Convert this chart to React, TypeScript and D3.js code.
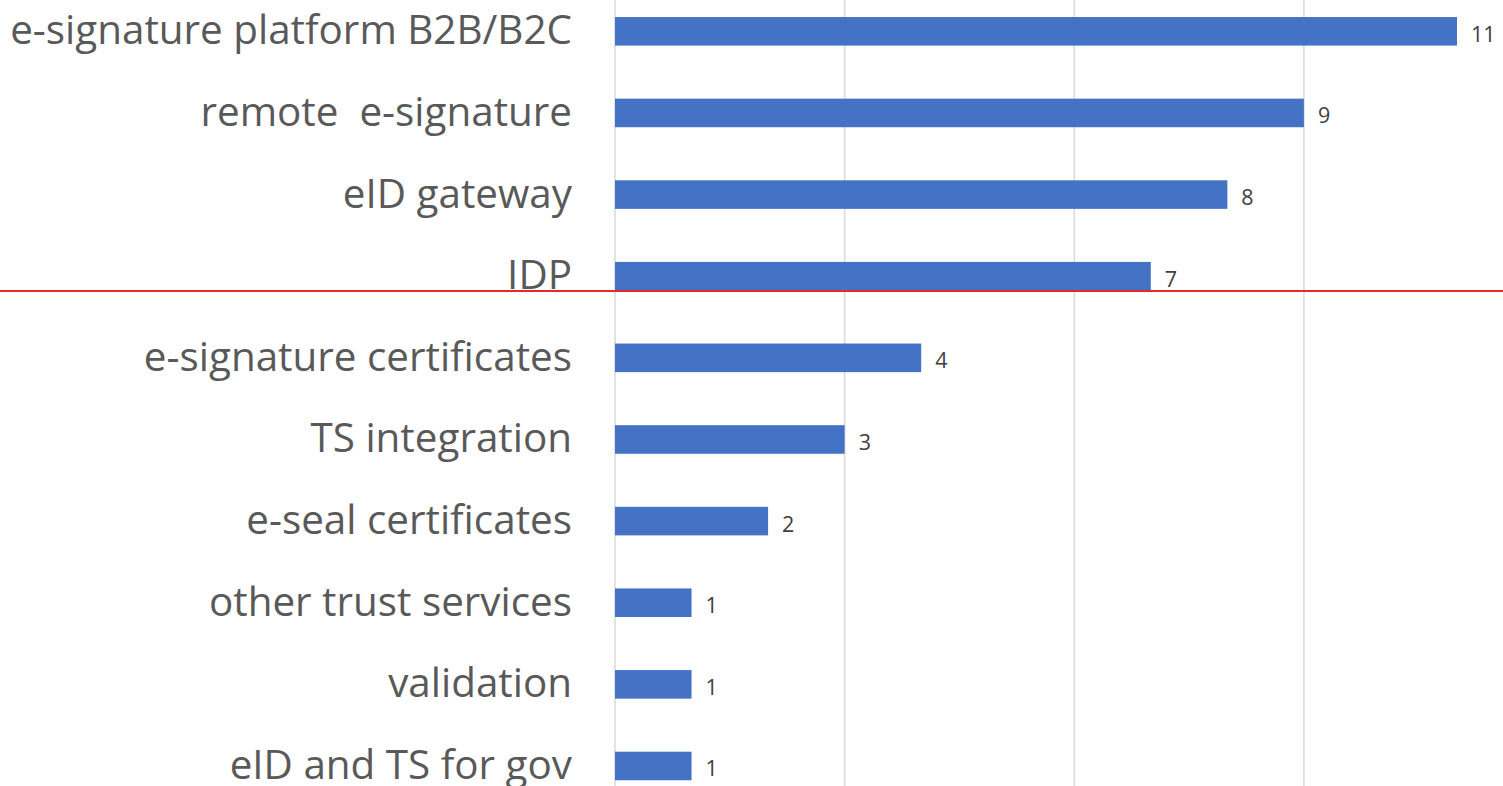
import React from "react";
import * as d3 from "d3";

const categories = [
  "e-signature platform B2B/B2C",
  "remote  e-signature",
  "eID gateway",
  "IDP",
  "e-signature certificates",
  "TS integration",
  "e-seal certificates",
  "other trust services",
  "validation",
  "eID and TS for gov",
];
const values = [11, 9, 8, 7, 4, 3, 2, 1, 1, 1];
const gridTicks = [0, 3, 6, 9, 12];
const dividerAfter = "IDP";

const W = 1503;
const H = 786;

export default function App() {
  const x = d3.scaleLinear().domain([0, 11]).range([615, 1457]);
  const y = d3
    .scaleBand<string>()
    .domain(categories)
    .range([-9.5, 806.8])
    .paddingInner(0.65)
    .paddingOuter(0.325);
  const bw = y.bandwidth();
  const redY = (y(dividerAfter) as number) + bw + 0.5;
  return (
    <svg
      width={W}
      height={H}
      style={{ position: "absolute", left: 0, top: 0, background: "#fff" }}
    >
      {gridTicks.map((t) => (
        <line
          key={t}
          x1={x(t)}
          x2={x(t)}
          y1={0}
          y2={H}
          stroke="#d9d9d9"
          strokeWidth={1.5}
        />
      ))}
      {categories.map((c, i) => (
        <g key={c}>
          <rect
            x={x(0)}
            y={y(c)}
            width={x(values[i]) - x(0)}
            height={bw}
            fill="#4472C4"
          />
          <text
            x={572}
            y={(y(c) as number) + bw / 2 + 13}
            textAnchor="end"
            fontFamily="'Open Sans', sans-serif"
            fontSize={40.4}
            fill="#595959"
            style={{ whiteSpace: "pre" }}
          >
            {c}
          </text>
          <text
            x={x(values[i]) + 14}
            y={(y(c) as number) + bw / 2 + 10.5}
            fontFamily="'Open Sans', sans-serif"
            fontSize={21.5}
            fill="#404040"
          >
            {values[i]}
          </text>
        </g>
      ))}
      <line x1={0} x2={W} y1={redY} y2={redY} stroke="#e8262b" strokeWidth={2} />
    </svg>
  );
}
